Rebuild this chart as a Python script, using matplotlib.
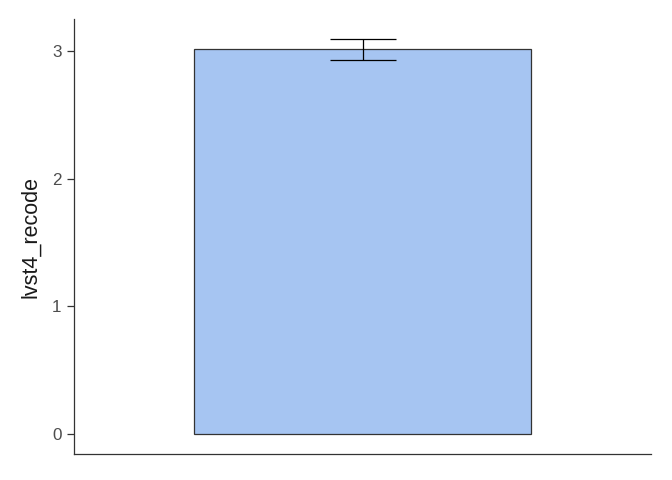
import matplotlib.pyplot as plt

# data
groups = ['all']
means = [3.012]
ses = [0.082]
ylabel = 'lvst4_recode'

plt.rcParams['font.family'] = ['Liberation Sans', 'DejaVu Sans']

fig = plt.figure(figsize=(6.72, 4.8), dpi=100)
ax = fig.add_axes([74/672, 26/480, 577/672, 435/480])

xpos = list(range(1, len(groups) + 1))
ax.bar(xpos, means, width=0.7, color='#A6C5F2', edgecolor='#333333', linewidth=0.9, zorder=2)
ax.errorbar(xpos, means, yerr=ses, fmt='none', ecolor='black', elinewidth=0.9,
            capsize=23.5, capthick=0.9, zorder=3)

ax.set_xlim(0.4, 1.6)
ax.set_ylim(-0.157, 3.25)
ax.set_yticks([0, 1, 2, 3])
ax.set_xticks([])
ax.set_ylabel(ylabel, fontsize=15.5, color='#1a1a1a', labelpad=8)
ax.tick_params(axis='y', labelsize=12.3, labelcolor='#4D4D4D', color='#333333',
               length=5, width=0.9, pad=4)
for s in ['top', 'right']:
    ax.spines[s].set_visible(False)
for s in ['left', 'bottom']:
    ax.spines[s].set_color('#333333')
    ax.spines[s].set_linewidth(0.9)

fig.savefig('out.png', dpi=100)
